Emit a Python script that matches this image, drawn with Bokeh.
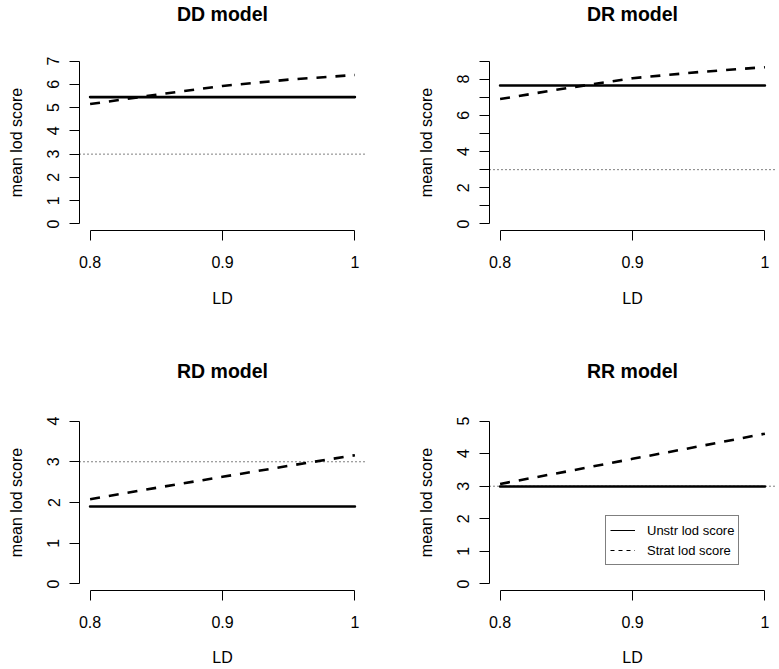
from bokeh.plotting import figure
from bokeh.models import FixedTicker, Span, Legend, LegendItem, Range1d, Title
from bokeh.layouts import column, row
from bokeh.embed import file_html
from bokeh.resources import INLINE

# ---------------- data ----------------
ld = [0.80, 0.85, 0.90, 0.95, 1.00]
x_ticks = [0.8, 0.9, 1.0]
x_tick_labels = ["0.8", "0.9", "1"]
lod_threshold = 3

panel_titles = ["DD model", "DR model", "RD model", "RR model"]

dd_unstr = [5.45, 5.45, 5.45, 5.45, 5.45]
dd_strat = [5.15, 5.55, 5.93, 6.20, 6.40]
dr_unstr = [7.65, 7.65, 7.65, 7.65, 7.65]
dr_strat = [6.90, 7.50, 8.05, 8.39, 8.66]
rd_unstr = [1.90, 1.90, 1.90, 1.90, 1.90]
rd_strat = [2.08, 2.36, 2.63, 2.90, 3.16]
rr_unstr = [2.99, 2.99, 2.99, 2.99, 2.99]
rr_strat = [3.07, 3.45, 3.84, 4.22, 4.61]

dd_yticks = [0, 1, 2, 3, 4, 5, 6, 7]
dd_ylabels = ["0", "1", "2", "3", "4", "5", "6", "7"]
dr_yticks = [0, 1, 2, 3, 4, 5, 6, 7, 8, 9]
dr_ylabels = ["0", "", "2", "", "4", "", "6", "", "8", ""]
rd_yticks = [0, 1, 2, 3, 4]
rd_ylabels = ["0", "1", "2", "3", "4"]
rr_yticks = [0, 1, 2, 3, 4, 5]
rr_ylabels = ["0", "1", "2", "3", "4", "5"]

legend_labels = ["Unstr lod score", "Strat lod score"]
x_label = "LD"
y_label = "mean lod score"

FONT = "Liberation Sans"
FRAME_W, FRAME_H = 286, 176


def make_panel(title, unstr, strat, yticks, ylabels, col, rw, with_legend=False):
    left, right = (79, 24) if col == 0 else (100, 3)
    top, bottom = (53, 105) if rw == 0 else (79, 79)
    xpad = 0.04 * (max(ld) - min(ld))
    ymin, ymax = min(yticks), max(yticks)
    ypad = 0.04 * (ymax - ymin)
    p = figure(
        frame_width=FRAME_W, frame_height=FRAME_H,
        min_border_left=left, min_border_right=right,
        min_border_top=top, min_border_bottom=bottom,
        x_range=Range1d(min(ld) - xpad, max(ld) + xpad),
        y_range=Range1d(ymin - ypad, ymax + ypad),
        output_backend="svg", toolbar_location=None,
        background_fill_color="white", border_fill_color="white",
    )
    p.outline_line_color = None
    p.grid.visible = False

    # gap between the frame and the title (empty spacer panel, nearest the frame)
    p.add_layout(Title(text=" ", text_font_size="1px",
                       standoff=27 if rw == 0 else 29.5), "above")

    p.title.text = title
    p.title.align = "center"
    p.title.vertical_align = "bottom"
    p.title.text_font = FONT
    p.title.text_font_style = "bold"
    p.title.text_font_size = "19.5px"
    p.title.text_color = "black"
    p.title.standoff = 0

    xa = p.xaxis[0]
    xa.ticker = FixedTicker(ticks=x_ticks)
    xa.major_label_overrides = {t: lab for t, lab in zip(x_ticks, x_tick_labels)}
    xa.bounds = (min(x_ticks), max(x_ticks))
    xa.axis_label = x_label
    xa.axis_label_standoff = 19 if rw == 0 else 18
    xa.major_label_standoff = 15

    ya = p.yaxis[0]
    ya.ticker = FixedTicker(ticks=yticks)
    ya.major_label_overrides = {t: lab for t, lab in zip(yticks, ylabels)}
    ya.bounds = (ymin, ymax)
    ya.axis_label = y_label
    ya.axis_label_standoff = 20
    ya.major_label_standoff = 10
    ya.major_label_orientation = "parallel"

    for ax in (xa, ya):
        ax.axis_line_color = "black"
        ax.axis_line_width = 1
        ax.major_tick_line_color = "black"
        ax.major_tick_line_width = 1
        ax.major_tick_out = 10
        ax.major_tick_in = 0
        ax.minor_tick_line_color = None
        ax.major_label_text_font = FONT
        ax.major_label_text_font_size = "16px"
        ax.major_label_text_color = "black"
        ax.axis_label_text_font = FONT
        ax.axis_label_text_font_size = "16px"
        ax.axis_label_text_font_style = "normal"
        ax.axis_label_text_color = "black"

    p.add_layout(Span(location=lod_threshold, dimension="width",
                      line_color="black", line_width=1, line_dash="1 3"))
    p.line(ld, unstr, line_color="black", line_width=2.6, line_cap="round")
    p.line(ld, strat, line_color="black", line_width=2.6, line_dash="10 9")

    if with_legend:
        r1 = p.line(ld, unstr, line_color="black", line_width=1, visible=False)
        r2 = p.line(ld, strat, line_color="black", line_width=1,
                    line_dash="4 4", visible=False)
        leg = Legend(
            items=[LegendItem(label=legend_labels[0], renderers=[r1]),
                   LegendItem(label=legend_labels[1], renderers=[r2])],
            location=(116, 25),
            orientation="vertical",
            border_line_color="black", border_line_width=1,
            background_fill_color="white", background_fill_alpha=1.0,
            label_text_font=FONT, label_text_font_size="13px",
            label_text_color="black",
            glyph_width=25, glyph_height=20, label_height=20,
            label_standoff=12, spacing=0, padding=4, margin=0,
        )
        p.add_layout(leg)
    return p


p1 = make_panel(panel_titles[0], dd_unstr, dd_strat, dd_yticks, dd_ylabels, 0, 0)
p2 = make_panel(panel_titles[1], dr_unstr, dr_strat, dr_yticks, dr_ylabels, 1, 0)
p3 = make_panel(panel_titles[2], rd_unstr, rd_strat, rd_yticks, rd_ylabels, 0, 1)
p4 = make_panel(panel_titles[3], rr_unstr, rr_strat, rr_yticks, rr_ylabels, 1, 1,
                with_legend=True)

layout = column(row(p1, p2), row(p3, p4))

open("out.html", "w").write(file_html(layout, INLINE))
